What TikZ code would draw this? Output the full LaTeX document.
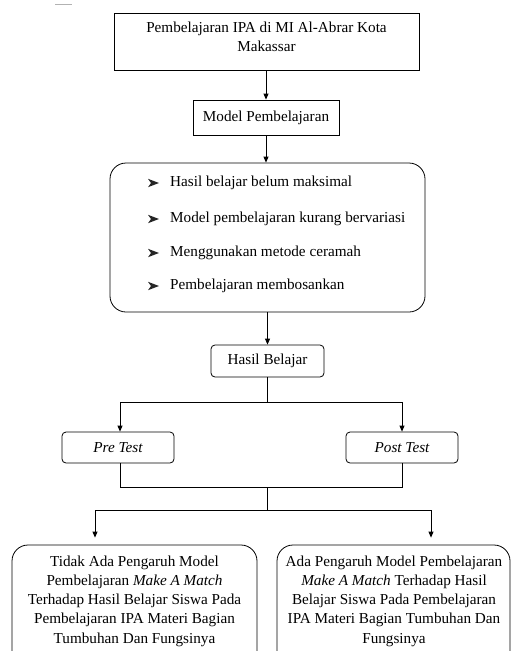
\documentclass[tikz,border=0pt]{standalone}
\usepackage{fontspec}
\setmainfont{Liberation Serif}
\usetikzlibrary{arrows.meta}
\begin{document}
\begin{tikzpicture}[x=1pt,y=-1pt,
  every node/.style={font=\fontsize{15.2}{19.3}\selectfont, inner sep=0pt},
  box/.style={draw, line width=0.8pt},
  rbox/.style={draw, line width=0.8pt, rounded corners=4pt},
  bigr/.style={draw, line width=0.8pt, rounded corners=16pt},
  conn/.style={line width=0.8pt},
  arr/.style={line width=0.8pt, -{Triangle[length=6pt,width=5pt]}},
  bulshape/.style={fill=black!85}]
\useasboundingbox (0,0) rectangle (512,651);
\clip (0,0) rectangle (512,651);
\draw[gray!60, line width=0.6pt] (55,4) -- (72,4);
% top
\node[box, minimum width=305pt, minimum height=57pt] (top) at (266.5,41.5) {};
\node[align=center] (toptext) at (266.5,36.5) {Pembelajaran IPA di MI Al-Abrar Kota\\Makassar};
% model
\node[box, minimum width=146pt, minimum height=35pt] (model) at (266,117.5) {Model Pembelajaran};
% problems
\node[bigr, minimum width=315pt, minimum height=149pt] (prob) at (267.5,237.5) {};
\foreach \yy/\t [count=\i] in {183/Hasil belajar belum maksimal,219/Model pembelajaran kurang bervariasi,253/Menggunakan metode ceramah,286/Pembelajaran membosankan}{
  \coordinate (b\i) at (153.5,\yy);
  \fill[bulshape] ([shift={(-5.5,-4.2)}]b\i) -- ([shift={(5.5,0)}]b\i) -- ([shift={(-5.5,4.2)}]b\i) -- ([shift={(-2.5,0)}]b\i) -- cycle;
  \node[anchor=west] (t\i) at (170,\yy) {\t};
}
% hasil
\node[rbox, minimum width=113pt, minimum height=32pt] (hasil) at (267.5,361) {Hasil Belajar};
\node[rbox, minimum width=112pt, minimum height=31pt] (pre) at (118,447.5) {\itshape Pre Test};
\node[rbox, minimum width=112pt, minimum height=31pt] (post) at (402,447.5) {\itshape Post Test};
% results
\node[bigr, minimum width=245pt, minimum height=130pt] (left) at (134.5,610) {};
\node[align=center] (lefttext) at (134.5,601) {Tidak Ada Pengaruh Model\\Pembelajaran \textit{Make A Match}\\Terhadap Hasil Belajar Siswa Pada\\Pembelajaran IPA Materi Bagian\\Tumbuhan Dan Fungsinya};
\node[bigr, minimum width=233pt, minimum height=130pt] (right) at (393.5,610) {};
\node[align=center] (righttext) at (394,601) {Ada Pengaruh Model Pembelajaran\\\textit{Make A Match} Terhadap Hasil\\Belajar Siswa Pada Pembelajaran\\IPA Materi Bagian Tumbuhan Dan\\Fungsinya};
% coordinates
\coordinate (s1) at (267.5,402);
\coordinate (s1l) at (120,402);
\coordinate (s1r) at (402,402);
\coordinate (m1) at (267.5,487);
\coordinate (m1l) at (120,487);
\coordinate (m1r) at (402,487);
\coordinate (m2) at (267.5,510);
\coordinate (m2l) at (95,510);
\coordinate (m2r) at (431,510);
% connectors
\draw[arr] (top.south -| model.north) -- (model.north);
\draw[arr] (model.south) -- (model.south |- prob.north);
\draw[arr] (prob.south -| hasil.north) -- (hasil.north);
\draw[conn] (hasil.south) -- (s1);
\draw[conn] (s1l) -- (s1r);
\draw[arr] (s1l) -- (s1l |- pre.north);
\draw[arr] (s1r) -- (s1r |- post.north);
\draw[conn] (s1l |- pre.south) -- (m1l) -- (m1r) -- (s1r |- post.south);
\draw[conn] (m1) -- (m2);
\draw[conn] (m2l) -- (m2r);
\draw[arr] (m2l) -- ([yshift=7pt]m2l |- left.north);
\draw[arr] (m2r) -- ([yshift=7pt]m2r |- right.north);
\end{tikzpicture}
\end{document}
